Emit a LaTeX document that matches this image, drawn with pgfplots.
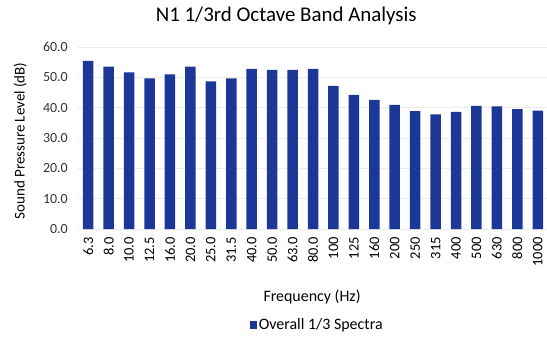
\documentclass[border=0pt]{standalone}
\usepackage{fontspec}
\setmainfont{Carlito}
\usepackage{pgfplots}
\pgfplotsset{compat=1.18}
\definecolor{barblue}{HTML}{1C3896}
\begin{document}
\begin{tikzpicture}[x=1bp,y=1bp]
\begin{axis}[
  at={(0,0)}, anchor=south west,
  scale only axis,
  width=470bp, height=182bp,
  ybar, bar width=10.5bp,
  xmin=-0.5, xmax=22.5,
  ymin=0, ymax=60,
  ytick={0,10,...,60},
  yticklabel style={/pgf/number format/fixed,/pgf/number format/fixed zerofill,/pgf/number format/precision=1, font=\fontsize{14}{16}\selectfont, text=black!80, inner sep=0pt, anchor=east},
  yticklabel shift=10bp,
  /pgf/number format/assume math mode=true,
  xtick=data,
  xticklabels={6.3,8.0,10.0,12.5,16.0,20.0,25.0,31.5,40.0,50.0,63.0,80.0,100,125,160,200,250,315,400,500,630,800,1000},
  xticklabel style={rotate=90, anchor=east, font=\fontsize{14.5}{16}\selectfont, inner sep=0pt},
  xticklabel shift=8bp,
  axis line style={draw=none},
  major tick length=0pt,
  ymajorgrids, grid style={black!8},
  xlabel={Frequency (Hz)},
  ylabel={Sound Pressure Level (dB)},
  xlabel style={font=\fontsize{16}{18}\selectfont, at={(axis description cs:0.498,-0.374)}, anchor=center},
  ylabel style={font=\fontsize{15}{17}\selectfont, at={(axis description cs:-0.123,0.484)}, anchor=center},
  title={N1 1/3rd Octave Band Analysis},
  title style={font=\fontsize{21}{24}\selectfont, at={(axis description cs:0.443,1.137)}, anchor=center},
  legend style={at={(0.509,-0.527)}, anchor=center, draw=none, fill=none, font=\fontsize{16}{18}\selectfont, legend columns=1, inner sep=0pt},
  legend image code/.code={\fill[barblue] (-5bp,-4bp) rectangle (2bp,4bp);},
]
\addplot[fill=barblue, draw=none] coordinates {
(0,55.4) (1,53.5) (2,51.6) (3,49.7) (4,51.0) (5,53.5) (6,48.7) (7,49.7)
(8,52.8) (9,52.5) (10,52.5) (11,52.8) (12,47.2) (13,44.2) (14,42.6) (15,40.9)
(16,38.9) (17,37.8) (18,38.6) (19,40.6) (20,40.4) (21,39.5) (22,39.0)
};
\addlegendentry{Overall 1/3 Spectra}
\end{axis}
\pgfresetboundingbox
\path[use as bounding box] (-78,-113) rectangle (469,229);
\end{tikzpicture}
\end{document}
